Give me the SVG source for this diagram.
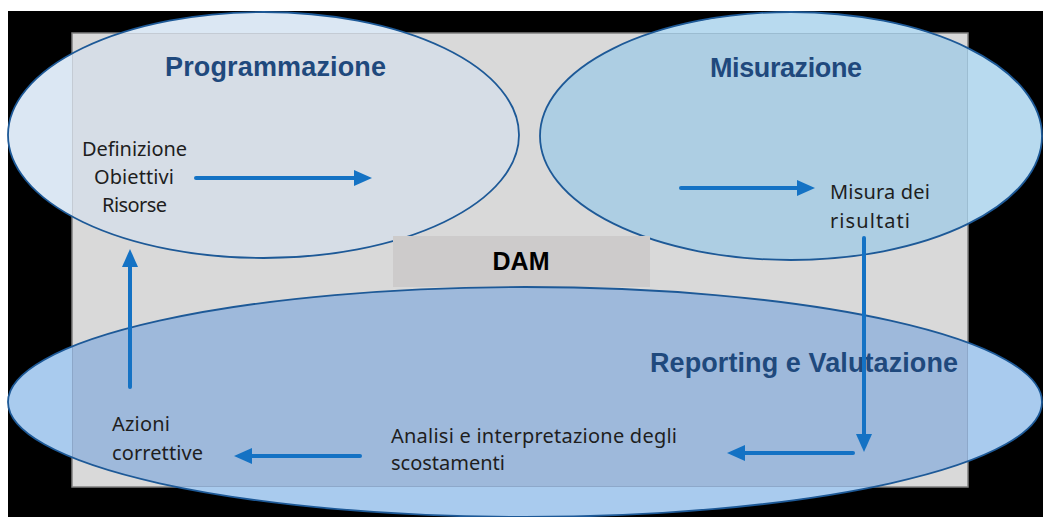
<svg xmlns="http://www.w3.org/2000/svg" width="1043" height="517" viewBox="0 0 1043 517">
<style>
.head{font-family:"Liberation Sans",Arial,sans-serif;font-weight:bold;font-size:27px;fill:#1f497d;text-anchor:middle}
.body{font-family:"Noto Sans","Liberation Sans",sans-serif;font-size:20px;fill:#1e1e1e;font-variant-ligatures:none}
.c{text-anchor:middle}
.dam{font-family:"Liberation Sans",Arial,sans-serif;font-weight:bold;font-size:25px;fill:#000;text-anchor:middle}
.edge{stroke:#1d5997;stroke-width:1.8;fill:none}
.arrow{stroke:#1472c4;stroke-width:4;stroke-linecap:round;fill:none;marker-end:url(#ah)}
</style>
<defs>
<clipPath id="inRect"><rect x="72" y="33" width="896" height="454"/></clipPath>
<clipPath id="outRect"><path clip-rule="evenodd" d="M0,0H1043V517H0Z M72,33V487H968V33Z"/></clipPath>
<marker id="ah" markerUnits="userSpaceOnUse" markerWidth="18" markerHeight="16" refX="8" refY="8" orient="auto">
<path d="M0,0 L18,8 L0,16 Z" fill="#1472c4"/>
</marker>
</defs>
<rect x="0" y="0" width="1043" height="517" fill="#ffffff"/>
<rect x="8" y="11" width="1035" height="506" fill="#000000"/>
<g id="frame">
<rect x="72" y="33" width="896" height="454" fill="#d9d9d9" stroke="#7f7f7f" stroke-width="1.5"/>
</g>
<g id="programmazione">
<ellipse cx="263.5" cy="135" rx="255.5" ry="123" fill="#dbe7f3" clip-path="url(#outRect)"/>
<ellipse cx="263.5" cy="135" rx="255.5" ry="123" fill="#d4dee9" fill-opacity="0.75" clip-path="url(#inRect)"/>
<ellipse class="edge" cx="263.5" cy="135" rx="255.5" ry="123"/>
<text class="head" x="275.5" y="76" textLength="221">Programmazione</text>
</g>
<g id="misurazione">
<ellipse cx="791" cy="136" rx="251" ry="124" fill="#b8daef" clip-path="url(#outRect)"/>
<ellipse cx="791" cy="136" rx="251" ry="124" fill="#9dcae5" fill-opacity="0.75" clip-path="url(#inRect)"/>
<ellipse class="edge" cx="791" cy="136" rx="251" ry="124"/>
<text class="head" x="786" y="77" textLength="152">Misurazione</text>
</g>
<g id="dam">
<rect x="393" y="236" width="257" height="51" fill="#cdcbcb"/>
<text class="dam" x="521" y="270">DAM</text>
</g>
<g id="reporting">
<ellipse cx="525" cy="402" rx="517" ry="115" fill="#a9cbee" clip-path="url(#outRect)"/>
<ellipse cx="525" cy="402" rx="517" ry="115" fill="#89addb" fill-opacity="0.75" clip-path="url(#inRect)"/>
<ellipse class="edge" cx="525" cy="402" rx="517" ry="115"/>
<text class="head" x="804" y="372" textLength="308">Reporting e Valutazione</text>
</g>
<g id="definizione">
<text class="body c" x="134.5" y="156" textLength="105">Definizione</text>
<text class="body c" x="134" y="184" textLength="80">Obiettivi</text>
<text class="body c" x="134.5" y="212" textLength="65">Risorse</text>
</g>
<g id="misura">
<text class="body" x="830" y="199" textLength="100">Misura dei</text>
<text class="body" x="830" y="228" textLength="80">risultati</text>
</g>
<g id="analisi">
<text class="body" x="391" y="443" textLength="286">Analisi e interpretazione  degli</text>
<text class="body" x="391" y="470" textLength="114">scostamenti</text>
</g>
<g id="azioni">
<text class="body" x="112" y="431" textLength="58">Azioni</text>
<text class="body" x="112" y="460" textLength="91">correttive</text>
</g>
<g id="connectors">
<line class="arrow" x1="196" y1="178" x2="362" y2="178"/>
<line class="arrow" x1="681" y1="188" x2="805" y2="188"/>
<line class="arrow" x1="864" y1="238" x2="864" y2="442"/>
<line class="arrow" x1="853" y1="453" x2="737" y2="453"/>
<line class="arrow" x1="360" y1="456" x2="244" y2="456"/>
<line class="arrow" x1="130" y1="387" x2="130" y2="259"/>
</g>
</svg>
